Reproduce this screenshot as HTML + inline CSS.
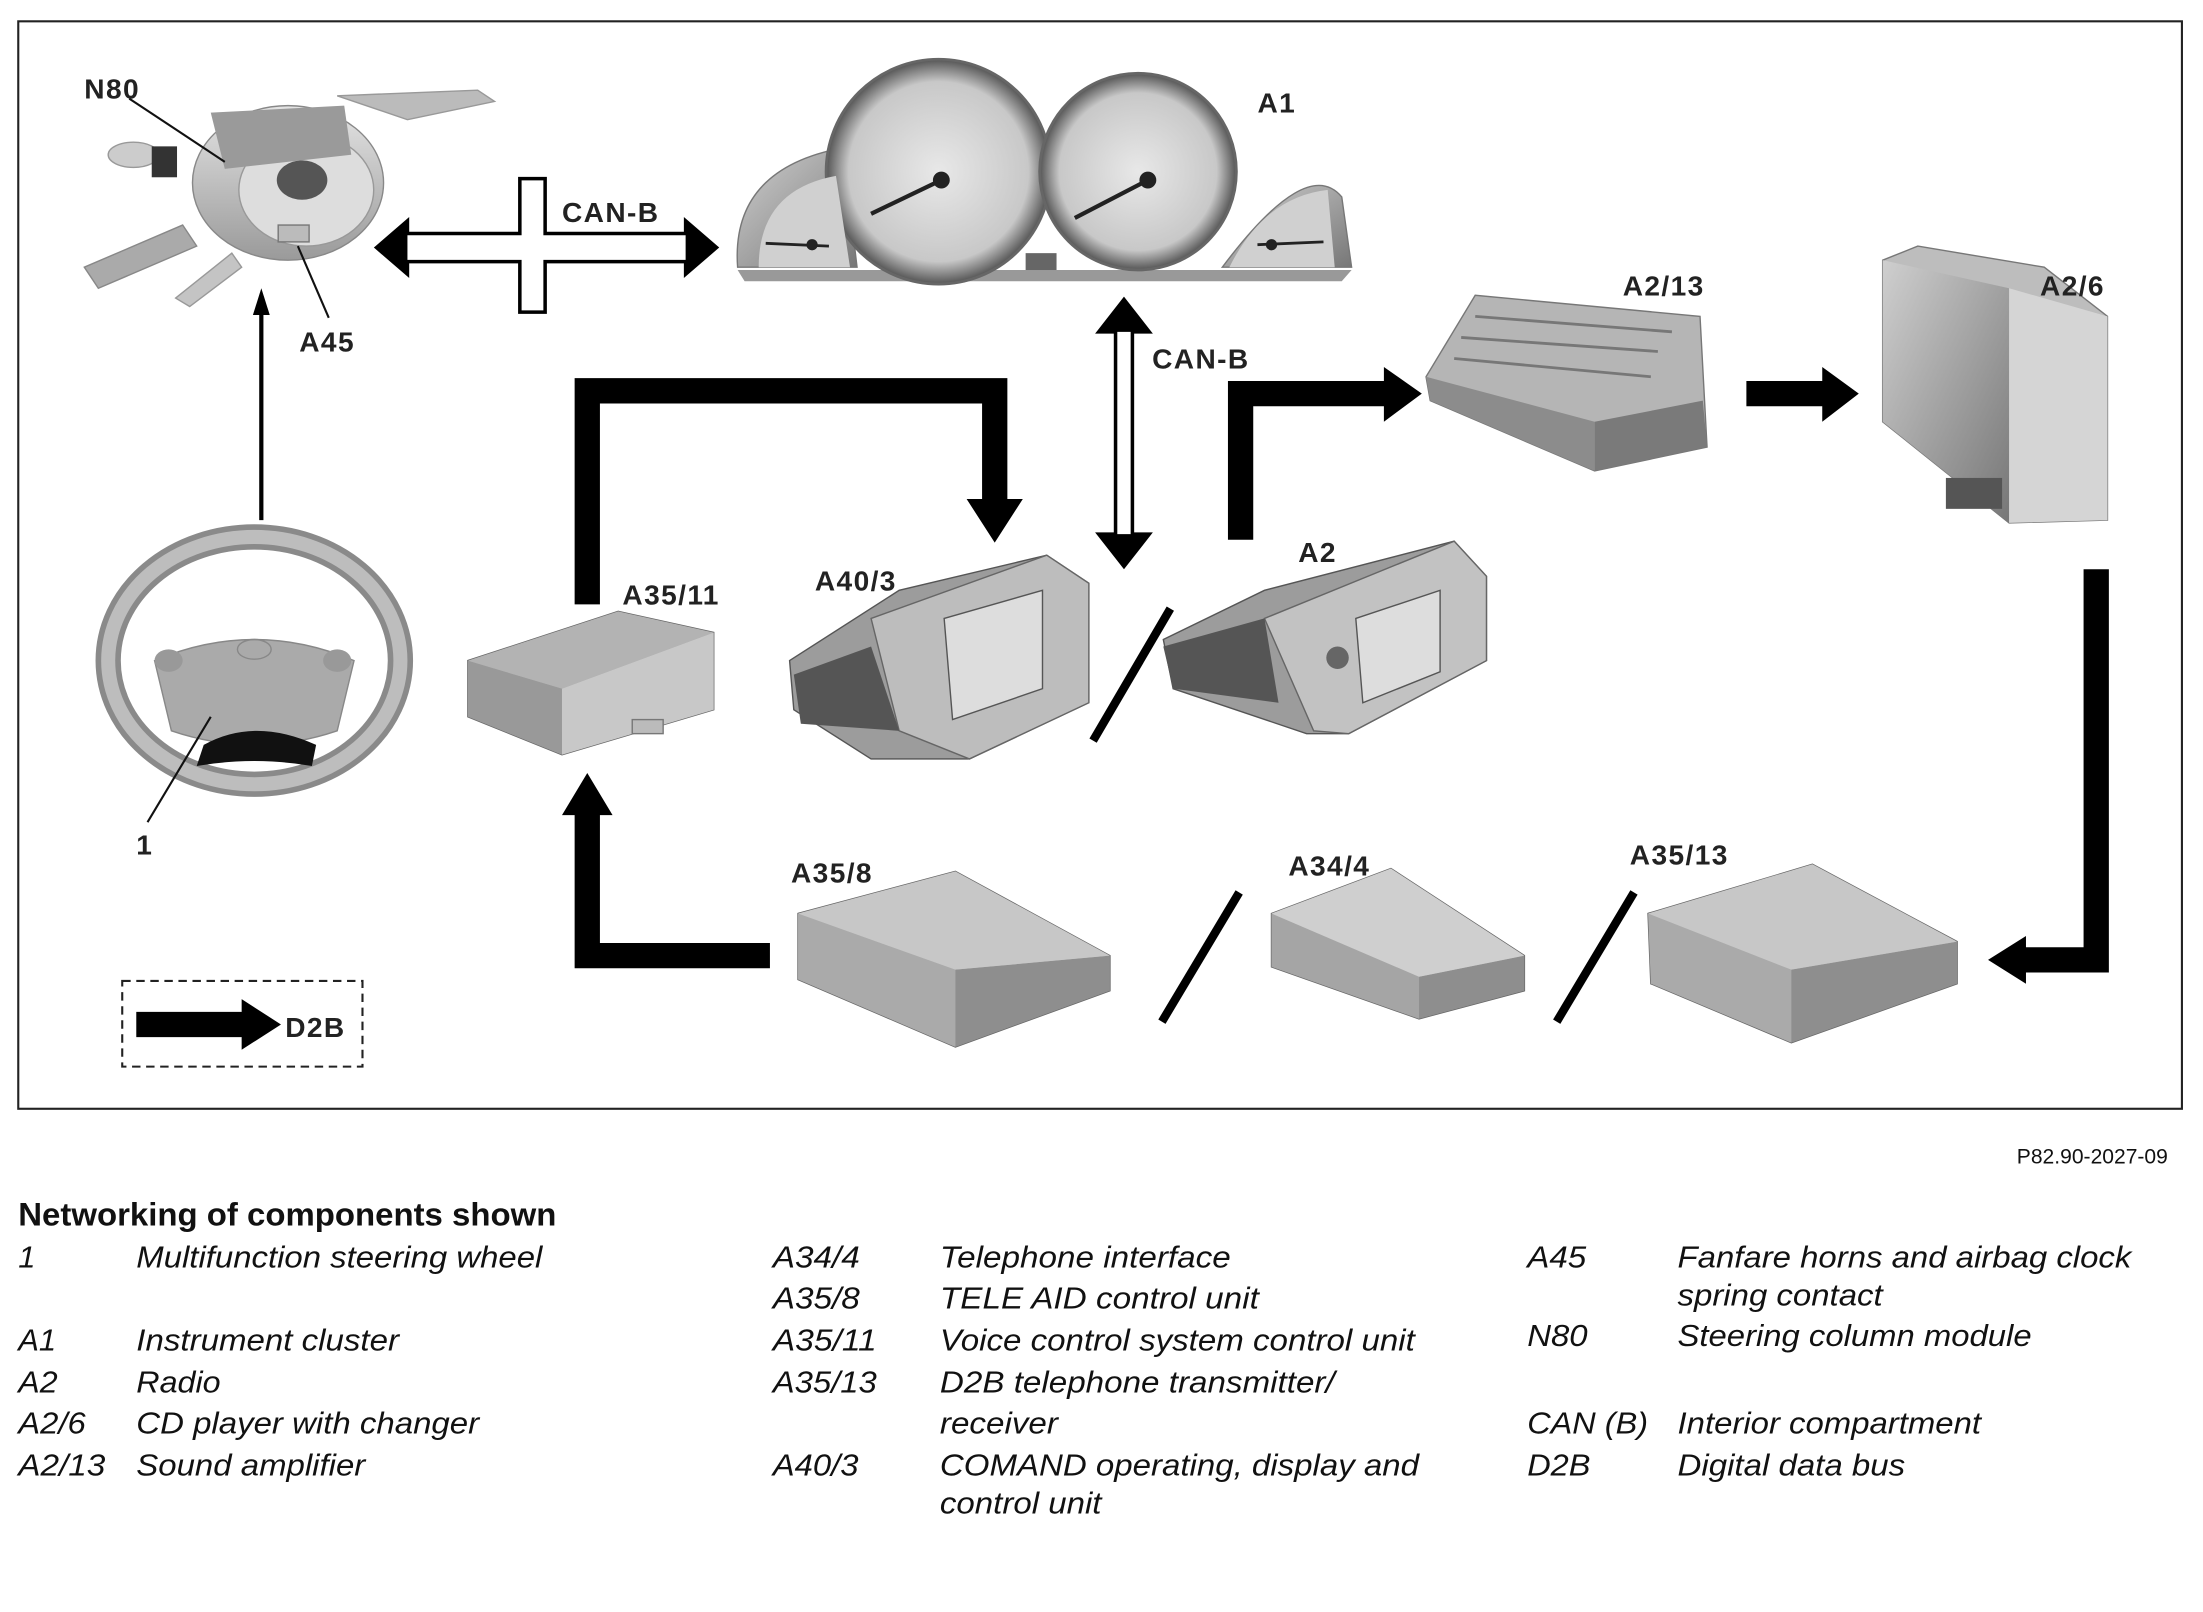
<!DOCTYPE html>
<html><head><meta charset="utf-8"><style>
html,body{margin:0;padding:0;background:#fff;width:2203px;height:1612px;overflow:hidden}
svg{display:block}
.lb{font-family:"Liberation Sans",sans-serif;font-weight:bold;font-size:20px;fill:#222;letter-spacing:1px}
.lg{font-family:"Liberation Sans Narrow","Liberation Sans",sans-serif;font-style:italic;font-size:22px;fill:#111}
.hd{font-family:"Liberation Sans Narrow","Liberation Sans",sans-serif;font-weight:bold;font-size:23px;fill:#111}
</style></head><body>
<svg width="2203" height="1612" viewBox="0 0 1568 1147" xmlns="http://www.w3.org/2000/svg">
<defs>
<linearGradient id="g1" x1="0" y1="0" x2="0" y2="1"><stop offset="0" stop-color="#e4e4e4"/><stop offset="1" stop-color="#9a9a9a"/></linearGradient>
<linearGradient id="g2" x1="0" y1="0" x2="1" y2="1"><stop offset="0" stop-color="#cfcfcf"/><stop offset="1" stop-color="#777"/></linearGradient>
<radialGradient id="dial"><stop offset="0" stop-color="#e8e8e8"/><stop offset="0.8" stop-color="#c8c8c8"/><stop offset="1" stop-color="#555"/></radialGradient>
</defs>
<rect x="13" y="15" width="1540" height="774" fill="none" stroke="#222" stroke-width="1.5"/>

<!-- N80 steering column module -->
<g>
<path d="M240 68 L340 64 L352 72 L290 85 Z" fill="#bbb" stroke="#999"/>
<ellipse cx="205" cy="130" rx="68" ry="55" fill="url(#g1)" stroke="#888"/>
<ellipse cx="218" cy="135" rx="48" ry="40" fill="#ddd" stroke="#999"/>
<ellipse cx="215" cy="128" rx="18" ry="14" fill="#555"/>
<path d="M150 80 L245 75 L250 110 L160 120 Z" fill="#9a9a9a"/>
<ellipse cx="95" cy="110" rx="18" ry="9" fill="#ccc" stroke="#999"/>
<path d="M60 190 L130 160 L140 175 L70 205 Z" fill="#aaa" stroke="#888"/>
<path d="M125 212 L165 180 L172 190 L135 218 Z" fill="#c4c4c4" stroke="#999"/>
<rect x="108" y="104" width="18" height="22" fill="#333"/>
<rect x="198" y="160" width="22" height="12" fill="#bbb" stroke="#777"/>
<line x1="92" y1="70" x2="160" y2="115" stroke="#111" stroke-width="1.5"/>
<line x1="212" y1="175" x2="234" y2="226" stroke="#111" stroke-width="1.5"/>
</g>
<text class="lb" x="60" y="70">N80</text>
<text class="lb" x="213" y="250">A45</text>
<!-- thin arrow up -->
<line x1="186" y1="370" x2="186" y2="222" stroke="#000" stroke-width="3"/>
<polygon points="186,205 180,224 192,224" fill="#000"/>

<!-- steering wheel -->
<g>
<ellipse cx="181" cy="470" rx="104" ry="88" fill="none" stroke="#8a8a8a" stroke-width="18"/>
<ellipse cx="181" cy="470" rx="104" ry="88" fill="none" stroke="#bdbdbd" stroke-width="10"/>
<path d="M110 470 Q181 440 252 470 L240 520 Q181 540 122 520 Z" fill="#aaa" stroke="#888"/>
<path d="M145 530 Q181 510 225 530 L222 545 Q181 538 140 545 Z" fill="#111"/>
<ellipse cx="120" cy="470" rx="10" ry="8" fill="#999"/><ellipse cx="240" cy="470" rx="10" ry="8" fill="#999"/>
<ellipse cx="181" cy="462" rx="12" ry="7" fill="none" stroke="#888"/>
<line x1="105" y1="585" x2="150" y2="510" stroke="#111" stroke-width="1.5"/>
</g>
<text class="lb" x="97" y="608">1</text>

<!-- CAN-B horizontal -->
<polygon points="268,176 290,157 290,166 370,166 370,127 388,127 388,166 488,166 488,157 510,176 488,195 488,186 388,186 388,222 370,222 370,186 290,186 290,195" fill="#fff" stroke="#000" stroke-width="2.5" stroke-linejoin="miter"/>
<polygon points="268,176 290,157 290,195" fill="#000"/><polygon points="510,176 488,157 488,195" fill="#000"/>
<text class="lb" x="400" y="158">CAN-B</text>

<!-- A1 cluster -->
<g>
<path d="M525 190 Q520 120 600 105 L610 190 Z" fill="url(#g2)" stroke="#777"/>
<path d="M870 190 Q930 110 955 140 L962 190 Z" fill="url(#g2)" stroke="#777"/>
<path d="M525 192 L962 192 L955 200 L530 200 Z" fill="#999"/>
<circle cx="668" cy="122" r="80" fill="url(#dial)" stroke="#666" stroke-width="2"/>
<circle cx="810" cy="122" r="70" fill="url(#dial)" stroke="#666" stroke-width="2"/>
<path d="M540 190 Q540 135 595 125 L605 190 Z" fill="#d0d0d0"/>
<path d="M875 190 Q900 140 945 135 L950 190 Z" fill="#d0d0d0"/>
<line x1="620" y1="152" x2="670" y2="128" stroke="#222" stroke-width="3"/><circle cx="670" cy="128" r="6" fill="#222"/>
<line x1="765" y1="155" x2="817" y2="128" stroke="#222" stroke-width="3"/><circle cx="817" cy="128" r="6" fill="#222"/>
<line x1="545" y1="173" x2="590" y2="175" stroke="#222" stroke-width="2"/><circle cx="578" cy="174" r="4" fill="#222"/>
<line x1="895" y1="174" x2="942" y2="172" stroke="#222" stroke-width="2"/><circle cx="905" cy="174" r="4" fill="#222"/>
<rect x="730" y="180" width="22" height="12" fill="#666"/>
</g>
<text class="lb" x="895" y="80">A1</text>

<!-- CAN-B vertical -->
<polygon points="800,213 782,236 794,236 794,380 782,380 800,403 818,380 806,380 806,236 818,236" fill="#fff" stroke="#000" stroke-width="2.5"/>
<polygon points="800,213 782,236 818,236" fill="#000"/><polygon points="800,403 782,380 818,380" fill="#000"/>
<text class="lb" x="820" y="262">CAN-B</text>

<!-- D2B thick arrows -->
<g fill="#000">
<polygon points="409,430 427,430 427,287 699,287 699,355 688,355 708,386 728,355 717,355 717,269 409,269"/>
<polygon points="874,384 892,384 892,289 985,289 985,300 1012,280 985,261 985,271 874,271"/>
<polygon points="1243,271 1297,271 1297,261 1323,280 1297,300 1297,289 1243,289"/>
<polygon points="1483,405 1501,405 1501,692 1442,692 1442,700 1415,683 1442,666 1442,674 1483,674"/>
<polygon points="548,671 548,689 409,689 409,580 400,580 418,550 436,580 427,580 427,671"/>
</g>

<!-- A2/13 amplifier -->
<g>
<polygon points="1015,268 1050,210 1210,225 1215,318 1135,335 1018,285" fill="#b5b5b5" stroke="#777"/>
<polygon points="1015,268 1135,300 1135,335 1018,285" fill="#8c8c8c"/>
<polygon points="1135,300 1212,285 1215,318 1135,335" fill="#7a7a7a"/>
<g stroke="#777" stroke-width="2"><line x1="1040" y1="240" x2="1180" y2="250"/><line x1="1035" y1="255" x2="1175" y2="268"/><line x1="1050" y1="225" x2="1190" y2="236"/></g>
</g>
<text class="lb" x="1155" y="210">A2/13</text>

<!-- A2/6 CD changer -->
<g>
<polygon points="1340,185 1365,175 1455,190 1500,225 1500,370 1430,372 1340,300" fill="#bdbdbd" stroke="#777"/>
<polygon points="1340,185 1430,205 1430,372 1340,300" fill="url(#g2)"/>
<polygon points="1430,205 1500,225 1500,370 1430,372" fill="#d5d5d5"/>
<rect x="1385" y="340" width="40" height="22" fill="#555"/>
</g>
<text class="lb" x="1452" y="210">A2/6</text>

<!-- A35/11 -->
<g>
<polygon points="333,470 440,435 508,450 508,505 400,537 333,510" fill="#aaa" stroke="#666"/>
<polygon points="333,470 400,490 400,537 333,510" fill="#999"/>
<polygon points="400,490 508,450 508,505 400,537" fill="#c8c8c8"/>
<polygon points="333,470 440,435 508,450 400,490" fill="#b3b3b3"/>
<rect x="450" y="512" width="22" height="10" fill="#bbb" stroke="#777"/>
</g>
<text class="lb" x="443" y="430">A35/11</text>

<!-- A40/3 COMAND -->
<g>
<polygon points="562,470 640,420 745,395 775,415 775,500 690,540 620,540 565,505" fill="#9c9c9c" stroke="#555"/>
<polygon points="620,440 745,395 775,415 775,500 690,540 640,520" fill="#bdbdbd" stroke="#666"/>
<polygon points="672,440 742,420 742,490 678,512" fill="#ddd" stroke="#555"/>
<polygon points="565,480 620,460 640,520 570,515" fill="#555"/>
</g>
<text class="lb" x="580" y="420">A40/3</text>

<!-- A2 radio -->
<g>
<polygon points="828,455 900,420 1035,385 1058,410 1058,470 960,522 930,522 835,490" fill="#9c9c9c" stroke="#555"/>
<polygon points="900,440 1035,385 1058,410 1058,470 960,522 935,520" fill="#c2c2c2" stroke="#666"/>
<polygon points="965,440 1025,420 1025,478 970,500" fill="#ddd" stroke="#555"/>
<circle cx="952" cy="468" r="8" fill="#666"/>
<polygon points="828,460 900,440 910,500 835,490" fill="#555"/>
</g>
<text class="lb" x="924" y="400">A2</text>

<!-- slashes -->
<g stroke="#000" stroke-width="6">
<line x1="778" y1="527" x2="833" y2="433"/>
<line x1="827" y1="727" x2="882" y2="635"/>
<line x1="1108" y1="727" x2="1163" y2="635"/>
</g>

<!-- A35/8 -->
<g>
<polygon points="568,650 680,620 790,680 790,705 680,745 568,697" fill="#b7b7b7" stroke="#666"/>
<polygon points="568,650 680,690 680,745 568,697" fill="#aaa"/>
<polygon points="680,690 790,680 790,705 680,745" fill="#8e8e8e"/>
<polygon points="568,650 680,620 790,680 680,690" fill="#c7c7c7"/>
</g>
<text class="lb" x="563" y="628">A35/8</text>

<!-- A34/4 -->
<g>
<polygon points="905,650 990,618 1085,680 1085,705 1010,725 905,688" fill="#bbb" stroke="#666"/>
<polygon points="905,650 1010,695 1010,725 905,688" fill="#a5a5a5"/>
<polygon points="1010,695 1085,680 1085,705 1010,725" fill="#8e8e8e"/>
<polygon points="905,650 990,618 1085,680 1010,695" fill="#cfcfcf"/>
</g>
<text class="lb" x="917" y="623">A34/4</text>

<!-- A35/13 -->
<g>
<polygon points="1173,650 1290,615 1393,670 1393,700 1275,742 1175,700" fill="#b7b7b7" stroke="#666"/>
<polygon points="1173,650 1275,690 1275,742 1175,700" fill="#aaa"/>
<polygon points="1275,690 1393,670 1393,700 1275,742" fill="#8e8e8e"/>
<polygon points="1173,650 1290,615 1393,670 1275,690" fill="#c7c7c7"/>
</g>
<text class="lb" x="1160" y="615">A35/13</text>

<!-- legend box -->
<rect x="87" y="698" width="171" height="61" fill="none" stroke="#222" stroke-width="1.5" stroke-dasharray="6,4"/>
<polygon points="97,720 172,720 172,711 200,729 172,747 172,738 97,738" fill="#000"/>
<text class="lb" x="203" y="738">D2B</text>

<text x="1543" y="828" text-anchor="end" font-family="Liberation Sans,sans-serif" font-size="15" fill="#111">P82.90-2027-09</text>
<text class="hd" x="13" y="872" textLength="383" lengthAdjust="spacingAndGlyphs">Networking of components shown</text>

<g class="lg">
<text x="13" y="902">1</text>
<text x="97" y="902" textLength="289" lengthAdjust="spacingAndGlyphs">Multifunction steering wheel</text>
<text x="13" y="961" textLength="27" lengthAdjust="spacingAndGlyphs">A1</text>
<text x="97" y="961" textLength="187" lengthAdjust="spacingAndGlyphs">Instrument cluster</text>
<text x="13" y="991" textLength="28" lengthAdjust="spacingAndGlyphs">A2</text>
<text x="97" y="991" textLength="60" lengthAdjust="spacingAndGlyphs">Radio</text>
<text x="13" y="1020" textLength="48" lengthAdjust="spacingAndGlyphs">A2/6</text>
<text x="97" y="1020" textLength="244" lengthAdjust="spacingAndGlyphs">CD player with changer</text>
<text x="13" y="1050" textLength="62" lengthAdjust="spacingAndGlyphs">A2/13</text>
<text x="97" y="1050" textLength="163" lengthAdjust="spacingAndGlyphs">Sound amplifier</text>

<text x="550" y="902" textLength="62" lengthAdjust="spacingAndGlyphs">A34/4</text>
<text x="669" y="902" textLength="207" lengthAdjust="spacingAndGlyphs">Telephone interface</text>
<text x="550" y="931" textLength="62" lengthAdjust="spacingAndGlyphs">A35/8</text>
<text x="669" y="931" textLength="227" lengthAdjust="spacingAndGlyphs">TELE AID control unit</text>
<text x="550" y="961" textLength="74" lengthAdjust="spacingAndGlyphs">A35/11</text>
<text x="669" y="961" textLength="338" lengthAdjust="spacingAndGlyphs">Voice control system control unit</text>
<text x="550" y="991" textLength="74" lengthAdjust="spacingAndGlyphs">A35/13</text>
<text x="669" y="991" textLength="281" lengthAdjust="spacingAndGlyphs">D2B telephone transmitter/</text>
<text x="669" y="1020" textLength="84" lengthAdjust="spacingAndGlyphs">receiver</text>
<text x="550" y="1050" textLength="61" lengthAdjust="spacingAndGlyphs">A40/3</text>
<text x="669" y="1050" textLength="341" lengthAdjust="spacingAndGlyphs">COMAND operating, display and</text>
<text x="669" y="1077" textLength="115" lengthAdjust="spacingAndGlyphs">control unit</text>

<text x="1087" y="902" textLength="42" lengthAdjust="spacingAndGlyphs">A45</text>
<text x="1194" y="902" textLength="323" lengthAdjust="spacingAndGlyphs">Fanfare horns and airbag clock</text>
<text x="1194" y="929" textLength="146" lengthAdjust="spacingAndGlyphs">spring contact</text>
<text x="1087" y="958" textLength="43" lengthAdjust="spacingAndGlyphs">N80</text>
<text x="1194" y="958" textLength="252" lengthAdjust="spacingAndGlyphs">Steering column module</text>
<text x="1087" y="1020" textLength="86" lengthAdjust="spacingAndGlyphs">CAN (B)</text>
<text x="1194" y="1020" textLength="216" lengthAdjust="spacingAndGlyphs">Interior compartment</text>
<text x="1087" y="1050" textLength="45" lengthAdjust="spacingAndGlyphs">D2B</text>
<text x="1194" y="1050" textLength="162" lengthAdjust="spacingAndGlyphs">Digital data bus</text>
</g>
</svg>
</body></html>
